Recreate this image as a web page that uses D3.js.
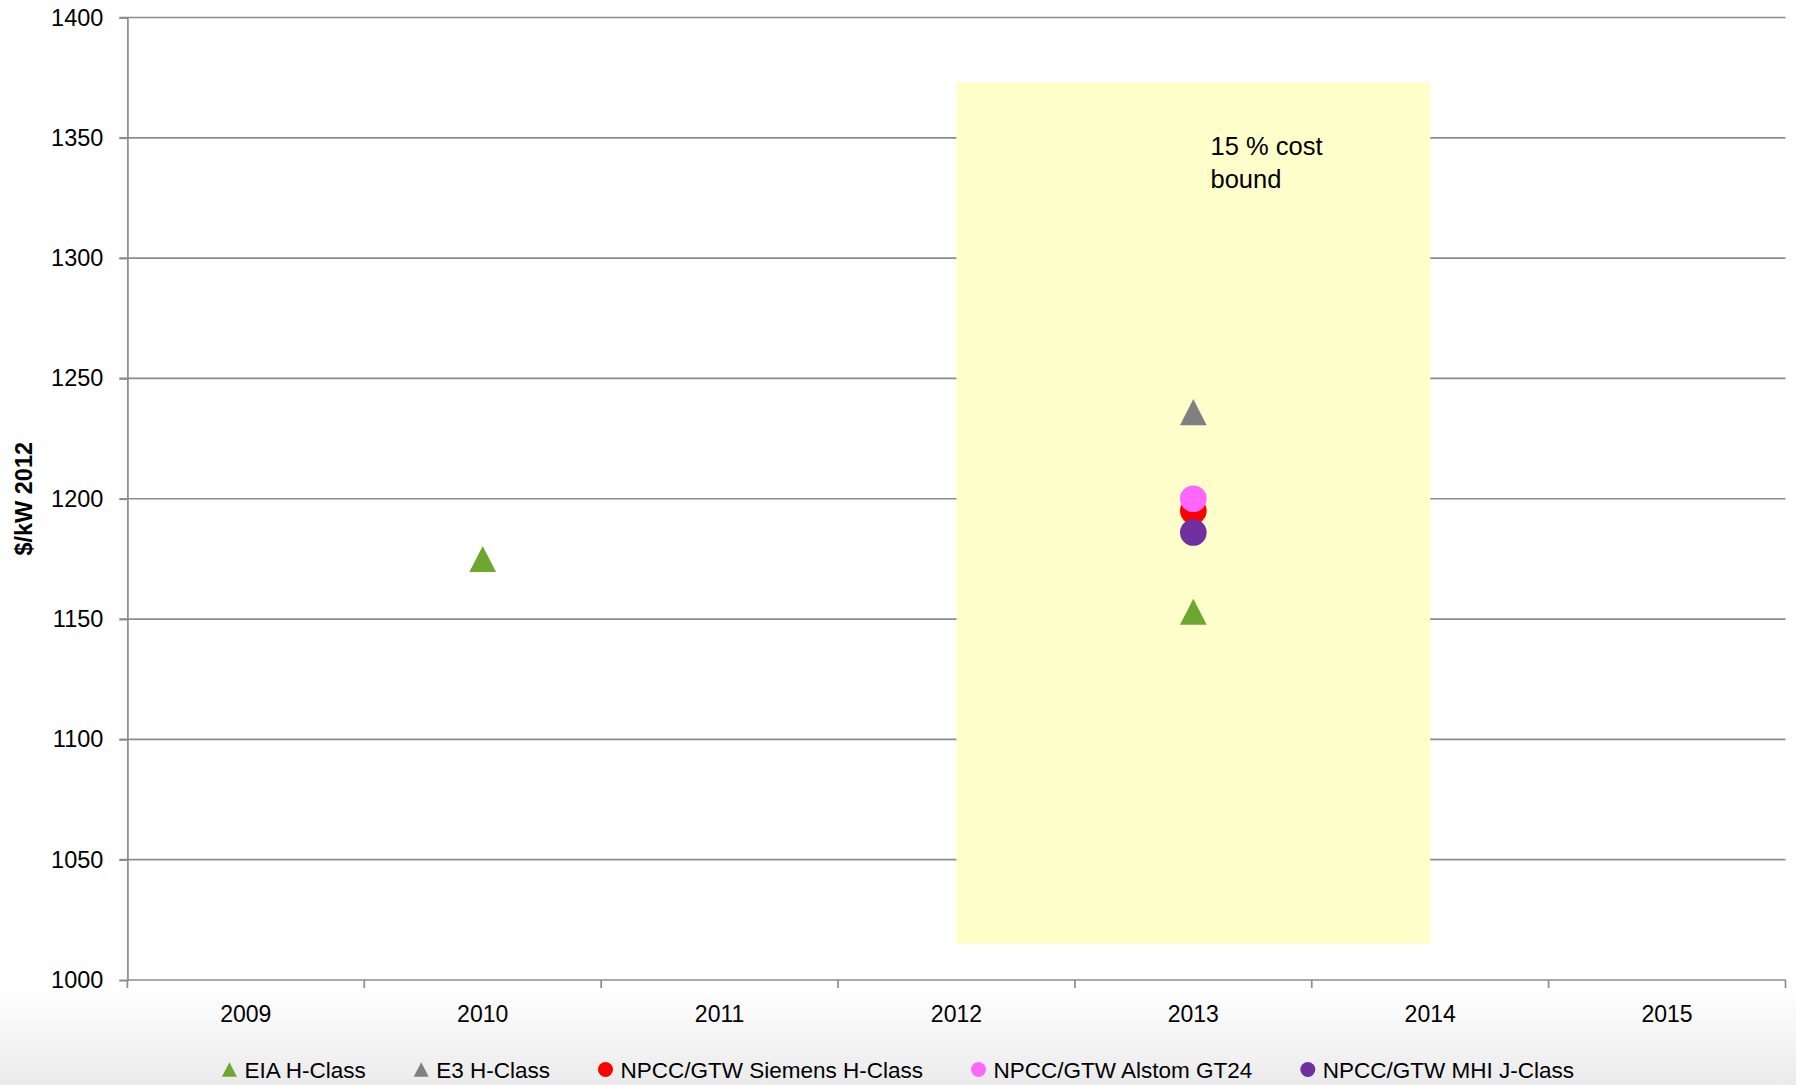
<!DOCTYPE html>
<html>
<head>
<meta charset="utf-8">
<script src="https://cdn.jsdelivr.net/npm/d3@7"></script>
<style>
  html, body { margin: 0; padding: 0; background: #ffffff; }
  svg { display: block; }
  text { font-family: "Liberation Sans", Arial, sans-serif; fill: #000; }
</style>
</head>
<body>
<svg id="chart" width="1796" height="1085"></svg>
<script>
// Categories along the x axis
const years = ["2009", "2010", "2011", "2012", "2013", "2014", "2015"];
// y axis ticks ($/kW, 2012 dollars)
const yTicks = [1000, 1050, 1100, 1150, 1200, 1250, 1300, 1350, 1400];

// Capital cost estimates per source
const eiaHClass = [ { year: "2010", value: 1175 }, { year: "2013", value: 1153 } ];
const e3HClass = [ { year: "2013", value: 1236 } ];
const siemensHClass = [ { year: "2013", value: 1195 } ];
const alstomGT24 = [ { year: "2013", value: 1200 } ];
const mhiJClass = [ { year: "2013", value: 1186 } ];

// Shaded band: +/- 15 % around the mean 2013 estimate
const boundYears = ["2012", "2014"];
const boundPct = 0.15;
const boundLabel = ["15 % cost", "bound"];

const series = [
  { name: "EIA H-Class", data: eiaHClass, shape: "triangle", color: "#6ea72f" },
  { name: "E3 H-Class", data: e3HClass, shape: "triangle", color: "#808080" },
  { name: "NPCC/GTW Siemens H-Class", data: siemensHClass, shape: "circle", color: "#ff0000" },
  { name: "NPCC/GTW Alstom GT24", data: alstomGT24, shape: "circle", color: "#ff66ff" },
  { name: "NPCC/GTW MHI J-Class", data: mhiJClass, shape: "circle", color: "#7030a0" }
];

const W = 1796, H = 1085;
const plot = { left: 127.4, right: 1785.5, top: 17.5, bottom: 980 };
const gridColor = "#8c8c8c";

const svg = d3.select("#chart");

// soft grey fade along the bottom of the canvas
const defs = svg.append("defs");
const grad = defs.append("linearGradient")
  .attr("id", "bottomFade").attr("x1", 0).attr("y1", 0).attr("x2", 0).attr("y2", 1);
grad.append("stop").attr("offset", "0%").attr("stop-color", "#ffffff");
grad.append("stop").attr("offset", "100%").attr("stop-color", "#ebebeb");
svg.append("rect").attr("x", 0).attr("y", 985).attr("width", W).attr("height", H - 985)
  .attr("fill", "url(#bottomFade)");

const x = d3.scaleBand().domain(years).range([plot.left, plot.right]).padding(0);
const y = d3.scaleLinear().domain([1000, 1400]).range([plot.bottom, plot.top]);
const cx = d => x(d) + x.bandwidth() / 2;

// Horizontal gridlines (with short outside tick marks)
svg.append("g").selectAll("line").data(yTicks.filter(t => t !== 1000)).join("line")
  .attr("x1", plot.left - 8).attr("x2", plot.right)
  .attr("y1", d => y(d)).attr("y2", d => y(d))
  .attr("stroke", gridColor).attr("stroke-width", 1.7);

// Cost bound band
const mean2013 = d3.mean(series.flatMap(s => s.data.filter(d => d.year === "2013").map(d => d.value)));
const bandLo = mean2013 * (1 - boundPct), bandHi = mean2013 * (1 + boundPct);
svg.append("rect")
  .attr("x", cx(boundYears[0])).attr("width", cx(boundYears[1]) - cx(boundYears[0]))
  .attr("y", y(bandHi)).attr("height", y(bandLo) - y(bandHi))
  .attr("fill", "#ffffcc");
svg.append("text")
  .attr("x", 1210.5).attr("y", 155)
  .style("font-size", "25.5px")
  .selectAll("tspan").data(boundLabel).join("tspan")
  .attr("x", 1210.5).attr("dy", (d, i) => i === 0 ? 0 : 33)
  .text(d => d);

// Y axis
const yAxis = d3.axisLeft(y).tickValues(yTicks).tickSize(8).tickPadding(16).tickFormat(d3.format("d"));
const gy = svg.append("g").attr("transform", `translate(${plot.left},0)`).call(yAxis);
gy.select(".domain").attr("stroke", gridColor).attr("stroke-width", 1.7);
gy.selectAll(".tick line").attr("stroke", gridColor).attr("stroke-width", 1.7);
gy.selectAll(".tick text").style("font-size", "23.5px").style("font-family", "Liberation Sans, Arial, sans-serif").attr("fill", "#000");

// X axis: ticks sit between categories
const gx = svg.append("g").attr("transform", `translate(0,${plot.bottom})`);
gx.append("line").attr("x1", plot.left).attr("x2", plot.right).attr("y1", 0).attr("y2", 0)
  .attr("stroke", gridColor).attr("stroke-width", 1.7);
const edges = years.map(d => x(d)).concat([plot.right]);
gx.selectAll("line.tk").data(edges).join("line").attr("class", "tk")
  .attr("x1", d => d).attr("x2", d => d).attr("y1", 0).attr("y2", 8)
  .attr("stroke", gridColor).attr("stroke-width", 1.7);
gx.selectAll("text").data(years).join("text")
  .attr("x", d => cx(d)).attr("y", 41.5)
  .attr("text-anchor", "middle").style("font-size", "23px")
  .text(d => d);

// Y axis title
svg.append("text")
  .attr("transform", `translate(32,${(plot.top + plot.bottom) / 2}) rotate(-90)`)
  .attr("text-anchor", "middle")
  .style("font-size", "23.5px").style("font-weight", "bold")
  .text("$/kW 2012");

// Marker shapes: flat-based triangle centred on its bounding box, and a circle
const triangleShape = {
  draw(ctx, size) {
    const w = Math.sqrt(size), h = w * 0.975;
    ctx.moveTo(0, -h / 2);
    ctx.lineTo(w / 2, h / 2);
    ctx.lineTo(-w / 2, h / 2);
    ctx.closePath();
  }
};
const circleShape = {
  draw(ctx, size) {
    const r = Math.sqrt(size) / 2;
    ctx.moveTo(r, 0);
    ctx.arc(0, 0, r, 0, 2 * Math.PI);
  }
};
const shapeOf = s => s === "triangle" ? triangleShape : circleShape;

// Series markers, drawn in legend order so the Alstom point sits above Siemens
const markerSize = 26.7 * 26.7;
series.forEach(s => {
  svg.append("g").selectAll("path").data(s.data).join("path")
    .attr("transform", d => `translate(${cx(d.year)},${y(d.value)})`)
    .attr("d", d3.symbol().type(shapeOf(s.shape)).size(markerSize)())
    .attr("fill", s.color);
});

// Legend, centred across the canvas
const legend = svg.append("g");
const legendSym = 15, symGap = 7.5, itemGap = 48;
const items = legend.selectAll("g").data(series).join("g");
items.append("text").attr("x", legendSym + symGap).attr("y", 1077.5)
  .style("font-size", "22.5px").text(d => d.name);
let offset = 0;
items.each(function (d) {
  const tw = d3.select(this).select("text").node().getComputedTextLength();
  d.offset = offset;
  offset += legendSym + symGap + tw + itemGap;
});
const legendWidth = offset - itemGap;
const legendStart = W / 2 - legendWidth / 2;
items.attr("transform", d => `translate(${legendStart + d.offset},0)`);
items.append("path")
  .attr("transform", `translate(${legendSym / 2},1069.5)`)
  .attr("d", d => d3.symbol().type(shapeOf(d.shape)).size(legendSym * legendSym)())
  .attr("fill", d => d.color);
</script>
</body>
</html>
